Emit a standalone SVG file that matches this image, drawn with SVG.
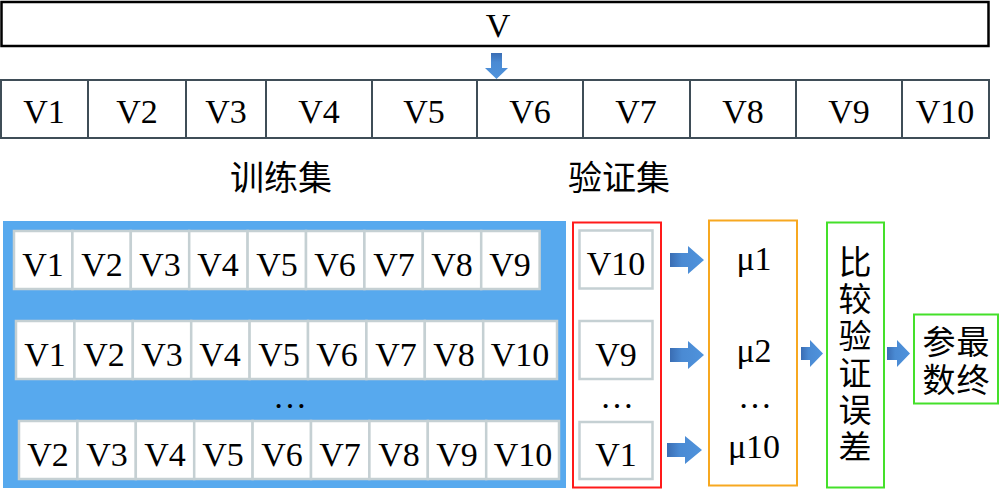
<svg xmlns="http://www.w3.org/2000/svg" width="1000" height="489" viewBox="0 0 1000 489">
<style>
.t{font-family:"Liberation Serif","Times New Roman",serif;font-size:34px;fill:#000;text-anchor:middle}
.c{font-family:"Noto Sans CJK SC","Noto Sans CJK TC",sans-serif;font-size:33px;fill:#000;text-anchor:middle}
.v{font-family:"Noto Sans CJK SC","Noto Sans CJK TC",sans-serif;font-size:33px;fill:#000;writing-mode:vertical-rl;text-anchor:start}
.top{fill:#fff;stroke:#3f4d57;stroke-width:2}
.cell{fill:#fff;stroke:#c5d0d3;stroke-width:2.5}
.arr{fill:url(#ag)}
</style>
<defs>
<linearGradient id="ag" x1="0" y1="0" x2="1" y2="0">
<stop offset="0" stop-color="#3a6db3"/>
<stop offset="0.35" stop-color="#4a8ad3"/>
<stop offset="1" stop-color="#4f93dc"/>
</linearGradient>
<linearGradient id="agd" x1="0" y1="0" x2="0" y2="1">
<stop offset="0" stop-color="#3a6db3"/>
<stop offset="0.35" stop-color="#4a8ad3"/>
<stop offset="1" stop-color="#4f93dc"/>
</linearGradient>
</defs>

<g id="V">
<rect x="1.5" y="2" width="987" height="44" fill="#fff" stroke="#000" stroke-width="2.5"/>
<text class="t" x="498" y="37">V</text>
</g>

<g id="split">
<rect class="top" x="1" y="80" width="87" height="58"/>
<rect class="top" x="88" y="80" width="98" height="58"/>
<rect class="top" x="186" y="80" width="80" height="58"/>
<rect class="top" x="266" y="80" width="106" height="58"/>
<rect class="top" x="372" y="80" width="105" height="58"/>
<rect class="top" x="477" y="80" width="106" height="58"/>
<rect class="top" x="583" y="80" width="107" height="58"/>
<rect class="top" x="690" y="80" width="106" height="58"/>
<rect class="top" x="796" y="80" width="106" height="58"/>
<rect class="top" x="902" y="80" width="87" height="58"/>
<text class="t" x="44" y="123">V1</text>
<text class="t" x="137" y="123">V2</text>
<text class="t" x="226" y="123">V3</text>
<text class="t" x="319" y="123">V4</text>
<text class="t" x="424" y="123">V5</text>
<text class="t" x="530" y="123">V6</text>
<text class="t" x="636" y="123">V7</text>
<text class="t" x="743" y="123">V8</text>
<text class="t" x="849" y="123">V9</text>
<text class="t" x="945" y="123">V10</text>
</g>

<g id="labels">
<text class="c" x="281" y="190" style="font-size:34px">训练集</text>
<text class="c" x="619" y="190" style="font-size:34px">验证集</text>
</g>

<g id="training">
<rect x="3" y="221" width="563" height="267" fill="#57a9ee"/>
<rect class="cell" x="14" y="231" width="58.4" height="58"/>
<rect class="cell" x="72.4" y="231" width="58.4" height="58"/>
<rect class="cell" x="130.8" y="231" width="58.4" height="58"/>
<rect class="cell" x="189.2" y="231" width="58.4" height="58"/>
<rect class="cell" x="247.6" y="231" width="58.4" height="58"/>
<rect class="cell" x="306" y="231" width="58.4" height="58"/>
<rect class="cell" x="364.4" y="231" width="58.4" height="58"/>
<rect class="cell" x="422.8" y="231" width="58.4" height="58"/>
<rect class="cell" x="481.2" y="231" width="58.4" height="58"/>
<text class="t" x="43" y="276">V1</text>
<text class="t" x="102" y="276">V2</text>
<text class="t" x="160" y="276">V3</text>
<text class="t" x="218" y="276">V4</text>
<text class="t" x="277" y="276">V5</text>
<text class="t" x="335" y="276">V6</text>
<text class="t" x="394" y="276">V7</text>
<text class="t" x="452" y="276">V8</text>
<text class="t" x="510" y="276">V9</text>

<rect class="cell" x="16" y="321" width="58.4" height="58"/>
<rect class="cell" x="74.4" y="321" width="58.4" height="58"/>
<rect class="cell" x="132.8" y="321" width="58.4" height="58"/>
<rect class="cell" x="191.2" y="321" width="58.4" height="58"/>
<rect class="cell" x="249.6" y="321" width="58.4" height="58"/>
<rect class="cell" x="308" y="321" width="58.4" height="58"/>
<rect class="cell" x="366.4" y="321" width="58.4" height="58"/>
<rect class="cell" x="424.8" y="321" width="58.4" height="58"/>
<rect class="cell" x="483.2" y="321" width="73.8" height="58"/>
<text class="t" x="45" y="366">V1</text>
<text class="t" x="104" y="366">V2</text>
<text class="t" x="162" y="366">V3</text>
<text class="t" x="220" y="366">V4</text>
<text class="t" x="279" y="366">V5</text>
<text class="t" x="337" y="366">V6</text>
<text class="t" x="396" y="366">V7</text>
<text class="t" x="454" y="366">V8</text>
<text class="t" x="520" y="366">V10</text>

<text class="t" x="290" y="408">…</text>

<rect class="cell" x="19" y="421" width="58.4" height="58"/>
<rect class="cell" x="77.4" y="421" width="58.4" height="58"/>
<rect class="cell" x="135.8" y="421" width="58.4" height="58"/>
<rect class="cell" x="194.2" y="421" width="58.4" height="58"/>
<rect class="cell" x="252.6" y="421" width="58.4" height="58"/>
<rect class="cell" x="311" y="421" width="58.4" height="58"/>
<rect class="cell" x="369.4" y="421" width="58.4" height="58"/>
<rect class="cell" x="427.8" y="421" width="58.4" height="58"/>
<rect class="cell" x="486.2" y="421" width="72.8" height="58"/>
<text class="t" x="48" y="466">V2</text>
<text class="t" x="107" y="466">V3</text>
<text class="t" x="165" y="466">V4</text>
<text class="t" x="223" y="466">V5</text>
<text class="t" x="282" y="466">V6</text>
<text class="t" x="340" y="466">V7</text>
<text class="t" x="399" y="466">V8</text>
<text class="t" x="457" y="466">V9</text>
<text class="t" x="523" y="466">V10</text>
</g>

<g id="validation">
<rect x="573" y="222.5" width="88" height="265" fill="#fff" stroke="#ff1a1a" stroke-width="2"/>
<rect class="cell" x="579.5" y="230.5" width="73" height="58"/>
<rect class="cell" x="579.5" y="321" width="73" height="58"/>
<rect class="cell" x="579.5" y="422" width="73" height="57"/>
<text class="t" x="616" y="275">V10</text>
<text class="t" x="616" y="366">V9</text>
<text class="t" x="617" y="408">…</text>
<text class="t" x="616" y="466">V1</text>
</g>

<g id="mu">
<rect x="709" y="220.5" width="88" height="265" fill="#fff" stroke="#f7a820" stroke-width="2"/>
<text class="t" x="754" y="270">μ1</text>
<text class="t" x="754" y="362">μ2</text>
<text class="t" x="755" y="408">…</text>
<text class="t" x="754" y="458">μ10</text>
</g>

<g id="compare">
<rect x="827" y="222.5" width="57" height="265" fill="#fff" stroke="#44e02a" stroke-width="2"/>
<text class="v" x="855" y="245" style="letter-spacing:4px">比较验证误差</text>
</g>

<g id="final">
<rect x="914" y="314.5" width="84" height="89" fill="#fff" stroke="#44e02a" stroke-width="2"/>
<text class="v" x="973" y="325" style="letter-spacing:5px">最终</text>
<text class="v" x="939" y="325" style="letter-spacing:5px">参数</text>
</g>

<g id="connectors">
<polygon fill="url(#agd)" points="491,53 502,53 502,68 508,68 496.5,79 485,68 491,68"/>
<polygon class="arr" points="670,253 688,253 688,246 704,260 688,274 688,267 670,267"/>
<polygon class="arr" points="670,348 688,348 688,341 704,355 688,369 688,362 670,362"/>
<polygon class="arr" points="667,443 685,443 685,436 702,450 685,464 685,457 667,457"/>
<polygon class="arr" points="801,347 810,347 810,340 823,353.5 810,367 810,360 801,360"/>
<polygon class="arr" points="887,347 897,347 897,340 910,353.5 897,367 897,360 887,360"/>
</g>
</svg>
